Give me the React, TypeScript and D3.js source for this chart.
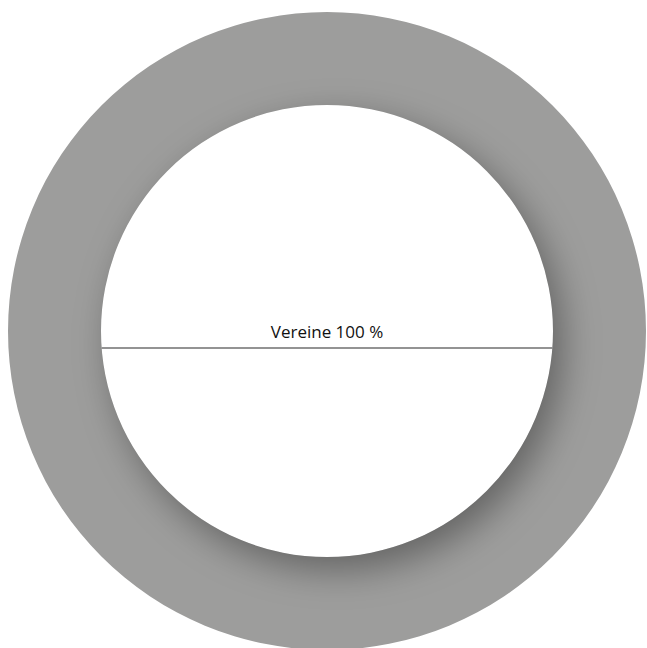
import React from "react";
import * as d3 from "d3";

const categories = ["Vereine"];
const values = [100];
const colors = ["#9d9d9c"];

const W = 647;
const H = 648;
const cx = 327;
const cy = 331;
const outerR = 319;
const innerR = 226;
const labelOffsetY = 17;

export default function App() {
  const data = categories.map((c, i) => ({ cat: c, value: values[i] }));
  const pie = d3.pie<any>().value((d) => d.value).sort(null);
  const arcs = pie(data);
  const arc = d3.arc<any>().innerRadius(innerR).outerRadius(outerR);
  const total = d3.sum(values);
  const ringPath = arc({ startAngle: 0, endAngle: 2 * Math.PI } as any) as string;
  const ly = labelOffsetY;
  const halfChord = Math.sqrt(innerR * innerR - ly * ly);

  return (
    <svg
      width={W}
      height={H}
      style={{ position: "absolute", left: 0, top: 0, display: "block" }}
    >
      <defs>
        <clipPath id="ringClip">
          <path d={ringPath} transform={`translate(${cx},${cy})`} />
        </clipPath>
        <filter id="blur" x="-50%" y="-50%" width="200%" height="200%">
          <feGaussianBlur stdDeviation="18" />
        </filter>
      </defs>
      <g transform={`translate(${cx},${cy})`}>
        {arcs.map((a, i) => (
          <path key={i} d={arc(a) as string} fill={colors[i]} />
        ))}
      </g>
      <g clipPath="url(#ringClip)">
        <circle
          cx={cx + 10}
          cy={cy + 13}
          r={innerR}
          fill="#000"
          fillOpacity={0.36}
          filter="url(#blur)"
        />
      </g>
      <g transform={`translate(${cx},${cy})`}>
        {arcs.map((a, i) => (
          <g key={i}>
            <line
              x1={-halfChord}
              x2={halfChord}
              y1={ly}
              y2={ly}
              stroke="#6f6f6f"
              strokeWidth={1.4}
            />
            <text
              x={0}
              y={ly - 10}
              textAnchor="middle"
              fontFamily="'Open Sans', sans-serif"
              fontSize={17}
              fill="#111"
            >
              {`${a.data.cat} ${Math.round((a.data.value / total) * 100)} %`}
            </text>
          </g>
        ))}
      </g>
    </svg>
  );
}
